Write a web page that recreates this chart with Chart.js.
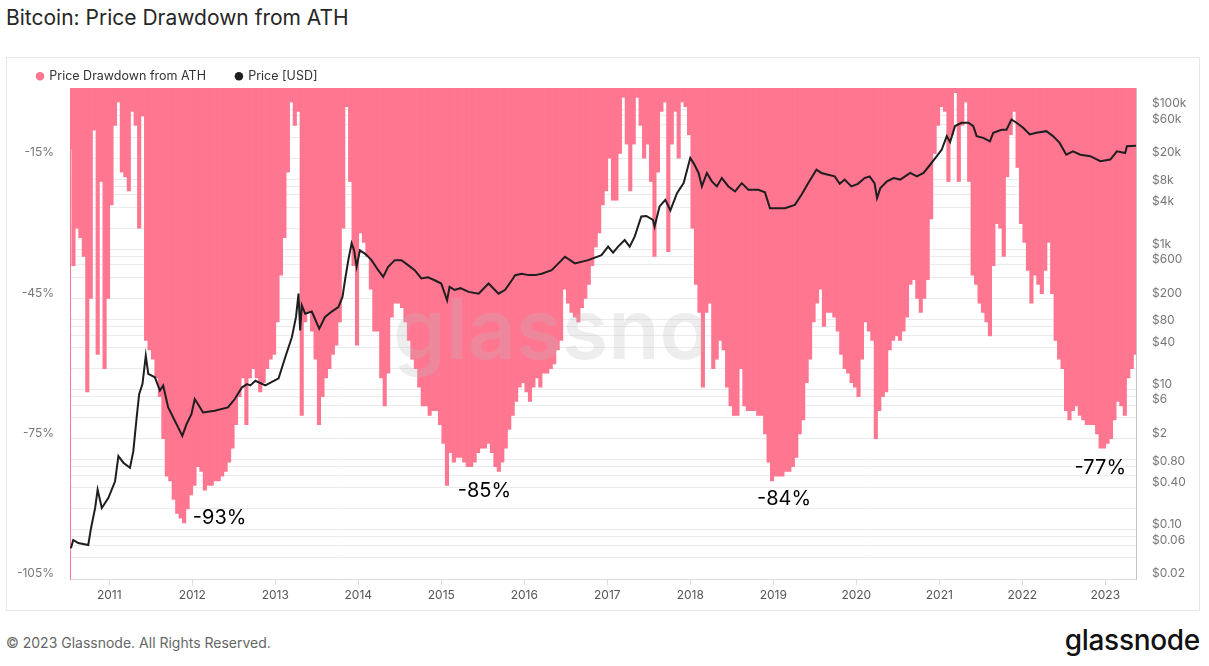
<!DOCTYPE html>
<html>
<head>
<meta charset="utf-8">
<script src="https://cdn.jsdelivr.net/npm/chart.js@4.4.0/dist/chart.umd.min.js"></script>
<style>
html,body{margin:0;padding:0;background:#fff;}
body{width:1209px;height:666px;position:relative;overflow:hidden;font-family:Inter,"Noto Sans",sans-serif;}
#title{position:absolute;left:6px;top:5px;font-size:21px;color:#262626;line-height:25px;white-space:nowrap;}
#box{position:absolute;left:6px;top:57px;width:1192px;height:552px;border:1px solid #e6e6e6;}
#wrap{position:absolute;left:7px;top:40px;width:1192px;height:570px;}
#footer{position:absolute;left:6px;top:634px;font-size:14px;color:#666;line-height:18px;white-space:nowrap;}
#logo{position:absolute;right:9px;top:623px;font-size:28px;color:#111;font-weight:500;line-height:34px;letter-spacing:-0.3px;}
</style>
</head>
<body>
<div id="title">Bitcoin: Price Drawdown from ATH</div>
<div id="box"></div>
<div id="wrap"><canvas id="c" width="1192" height="570"></canvas></div>
<div id="footer">© 2023 Glassnode. All Rights Reserved.</div>
<div id="logo">glassnode</div>
<script>
// ---- Data ----
// Drawdown from ATH (%), semi-monthly samples starting mid-July 2010
const drawdownStart = 2010.527;          // decimal year of first sample
const drawdownStepYears = 1 / 24;        // sampling interval (half month)
const drawdownPct = [
 -13,-38,-30,-32,-36,-65,-45,-9,-57,-20,-60,-45,
 -25,-8,-3,-18,-19,-22,-5,-8,-30,-6,-54,-56,-58,-62,-66,-75,-83,-84,-88,-91,-92,-93,-90,-87,
 -85,-81,-82,-86,-85,-85,-84,-84,-83,-82,-80,-77,-72,-66,-62,-72,-62,-60,-62,-65,-63,-60,-58,-57,
 -50,-40,-32,-18,-3,-8,-5,-70,-50,-48,-52,-58,-72,-66,-62,-60,-57,-55,-50,-30,-4,-20,-38,-55,
 -31,-33,-36,-43,-52,-52,-62,-68,-61,-49,-46,-46,-47,-50,-54,-58,-60,-64,-68,-68,-70,-69,-69,-72,
 -76,-85,-78,-80,-79,-79,-80,-81,-81,-80,-78,-77,-77,-76,-78,-81,-82,-80,-77,-73,-70,-67,-64,-63,
 -65,-67,-64,-62,-64,-61,-61,-60,-59,-56,-54,-43,-46,-48,-49,-50,-47,-45,-42,-38,-34,-31,-25,-22,
 -15,-24,-24,-14,-2,-12,-22,-12,-2,-8,-15,-12,-20,-36,-18,-5,-3,-35,-12,-5,-15,-3,-4,-10,
 -30,-42,-48,-64,-48,-46,-60,-58,-54,-56,-64,-68,-70,-70,-60,-68,-69,-69,-69,-70,-70,-74,-80,-84,
 -83,-83,-83,-82,-82,-81,-79,-74,-71,-63,-58,-50,-46,-43,-51,-48,-48,-49,-52,-57,-60,-61,-63,-64,
 -66,-58,-50,-52,-54,-75,-69,-66,-65,-56,-54,-53,-54,-52,-49,-42,-41,-45,-48,-45,-41,-28,-14,-8,
 -4,-5,-20,-10,-1,-20,-8,-3,-20,-40,-42,-46,-48,-50,-53,-38,-29,-30,-36,-19,-10,-5,-17,-29,
 -33,-39,-46,-40,-42,-44,-39,-33,-44,-54,-58,-60,-69,-71,-69,-68,-70,-71,-72,-72,-72,-74,-77,-77,
 -76,-75,-71,-67,-68,-70,-62,-60,-57
];

// Price [USD] (decimal year, price)
const priceDates = [
 2010.538,2010.566,2010.627,2010.747,2010.78,2010.83,2010.86,2010.91,2010.99,
 2011.07,2011.11,2011.17,2011.25,2011.29,2011.33,2011.36,2011.40,2011.44,2011.47,2011.55,2011.61,2011.65,2011.71,2011.79,2011.83,2011.88,2011.93,2011.99,
 2012.03,2012.07,2012.13,2012.27,2012.43,2012.51,2012.60,2012.66,2012.70,2012.76,2012.88,
 2013.00,2013.04,2013.12,2013.20,2013.25,2013.28,2013.30,2013.32,2013.36,2013.44,2013.53,2013.60,2013.68,2013.76,2013.81,2013.84,2013.88,2013.92,2013.95,2013.98,
 2014.02,2014.08,2014.16,2014.24,2014.30,2014.36,2014.44,2014.52,2014.60,2014.68,2014.76,2014.84,2014.92,
 2015.00,2015.07,2015.10,2015.16,2015.23,2015.33,2015.45,2015.57,2015.69,2015.77,2015.85,2015.89,2015.97,
 2016.05,2016.13,2016.21,2016.33,2016.45,2016.49,2016.61,2016.77,2016.93,
 2017.01,2017.07,2017.13,2017.21,2017.27,2017.33,2017.41,2017.47,2017.55,2017.57,2017.63,2017.70,2017.76,2017.84,2017.92,
 2018.00,2018.04,2018.10,2018.14,2018.20,2018.26,2018.32,2018.38,2018.46,2018.54,2018.62,2018.70,2018.82,2018.90,2018.96,
 2019.06,2019.14,2019.26,2019.34,2019.42,2019.52,2019.58,2019.66,2019.74,2019.80,2019.86,2019.94,
 2020.02,2020.10,2020.16,2020.22,2020.25,2020.29,2020.37,2020.45,2020.53,2020.65,2020.73,2020.81,2020.89,2020.97,
 2021.03,2021.09,2021.13,2021.19,2021.27,2021.35,2021.41,2021.45,2021.53,2021.61,2021.65,2021.75,2021.81,2021.87,2021.93,
 2022.01,2022.09,2022.17,2022.29,2022.37,2022.45,2022.53,2022.61,2022.70,2022.82,2022.94,
 2023.06,2023.14,2023.24,2023.26,2023.37
];
const priceUSD = [
 0.055,0.072,0.065,0.061,0.106,0.206,0.377,0.206,0.287,
 0.495,1.13,0.91,0.77,1.33,4.0,8.65,12.0,30.6,16.8,15,9.7,11.5,5.6,3.6,2.9,2.19,3.2,4.48,
 7.33,6.2,4.73,5.0,5.6,7.3,10.8,12,11.5,13.4,11.5,
 13.7,14.5,29,56,109,234,70,159,121,130,74,109,130,150,210,363,703,1219,970,565,
 970,870,703,505,405,565,703,700,596,505,385,400,363,
 326,188,292,265,280,248,234,326,234,265,363,429,450,
 430,430,450,505,703,785,631,703,830,
 1094,900,1094,1360,1094,1520,2943,3000,2640,2115,4100,5100,3600,6340,8820,
 20100,17000,12300,7900,12300,9330,7900,10400,7900,6700,8800,7080,7080,6500,3870,
 3870,3870,4320,6000,8800,13700,12300,11600,11000,8600,9900,7900,
 8600,10400,11000,8800,5380,7480,9330,10400,9900,12300,11000,12300,16100,21300,
 26500,41200,34000,57300,63900,63900,57300,41200,38900,34700,45900,50700,50700,71300,63900,
 54200,43500,45900,48500,41200,33000,22400,25000,22400,21300,18100,
 19100,25000,23700,29600,30000
];

// Axis ticks and labels
const yearTicks = [2011,2012,2013,2014,2015,2016,2017,2018,2019,2020,2021,2022,2023];
const drawdownTicks = [-105,-75,-45,-15];
const priceTickValues = [0.02,0.06,0.1,0.4,0.8,2,6,10,40,80,200,600,1000,4000,8000,20000,60000,100000];
const priceTickLabels = ['$0.02','$0.06','$0.10','$0.40','$0.80','$2','$6','$10','$40','$80','$200','$600','$1k','$4k','$8k','$20k','$60k','$100k'];
const priceGridValues = [0.02,0.04,0.06,0.08,0.1,0.2,0.4,0.6,0.8,1,2,4,6,8,10,20,40,60,80,100,200,400,600,800,
 1000,2000,4000,6000,8000,10000,20000,40000,60000,80000,100000,200000];

// Cycle-bottom annotations (text with its data anchor)
const bottomLabels = ['-93%','-85%','-84%','-77%'];
const bottomLabelYears = [2012.33,2015.52,2019.13,2022.94];
const bottomLabelPct = [-91.9,-86.1,-87.9,-81.3];

// ---- Chart ----
const PINK = '#ff7691';
Chart.defaults.font.family = 'Inter, "Noto Sans", sans-serif';

const drawdownData = drawdownPct.map((v, i) => ({x: drawdownStart + i * drawdownStepYears, y: v}));
const priceData = priceUSD.map((v, i) => ({x: priceDates[i], y: v}));

const overlay = {
  id: 'overlay',
  afterDatasetsDraw(chart) {
    const {ctx, chartArea, scales} = chart;
    ctx.save();
    ctx.textAlign = 'center';
    ctx.textBaseline = 'middle';
    // faint watermark (only its left part shows in the reference)
    ctx.save();
    ctx.beginPath();
    ctx.rect(chartArea.left, chartArea.top, 696 - chartArea.left, chartArea.bottom - chartArea.top);
    ctx.clip();
    ctx.font = '600 84px Inter';
    ctx.fillStyle = 'rgba(185,185,185,0.26)';
    ctx.fillText('glassnode', (chartArea.left + chartArea.right) / 2, (chartArea.top + chartArea.bottom) / 2);
    ctx.restore();
    ctx.font = '20px Inter';
    ctx.fillStyle = '#000';
    bottomLabels.forEach((t, i) => {
      ctx.fillText(t, scales.x.getPixelForValue(bottomLabelYears[i]), scales.yDD.getPixelForValue(bottomLabelPct[i]));
    });
    ctx.restore();
  }
};

new Chart(document.getElementById('c'), {
  type: 'bar',
  data: {
    datasets: [
      {
        label: 'Price Drawdown from ATH',
        data: drawdownData,
        yAxisID: 'yDD',
        backgroundColor: PINK,
        borderWidth: 0,
        barPercentage: 1,
        categoryPercentage: 1,
        order: 1
      },
      {
        type: 'line',
        label: 'Price [USD]',
        data: priceData,
        yAxisID: 'yPrice',
        borderColor: '#1e1e1e',
        backgroundColor: '#1e1e1e',
        borderWidth: 2,
        pointRadius: 0,
        tension: 0,
        order: 0
      }
    ]
  },
  options: {
    responsive: false,
    animation: false,
    events: [],
    layout: {padding: 0},
    plugins: {
      tooltip: {enabled: false},
      legend: {
        display: true,
        position: 'top',
        align: 'start',
        maxHeight: 48,
        labels: {
          usePointStyle: true,
          pointStyle: 'circle',
          boxWidth: 6,
          boxHeight: 6,
          padding: 30,
          color: '#333',
          font: {size: 12.5},
          sort: (a, b) => a.datasetIndex - b.datasetIndex,
          generateLabels(chart) {
            const items = Chart.defaults.plugins.legend.labels.generateLabels(chart);
            items.forEach(it => { it.lineWidth = 0; it.strokeStyle = 'rgba(0,0,0,0)'; });
            return items;
          }
        }
      }
    },
    scales: {
      x: {
        type: 'linear',
        min: 2010.527,
        max: 2023.37,
        offset: false,
        afterBuildTicks: s => { s.ticks = yearTicks.map(v => ({value: v})); },
        afterFit: s => { s.height = 31; },
        ticks: {autoSkip: false, maxRotation: 0, padding: 3, color: '#555', font: {size: 12}, callback: v => String(v)},
        grid: {drawOnChartArea: false, drawTicks: true, tickLength: 6, color: '#dcdcdc', offset: false},
        border: {display: true, color: '#dcdcdc'}
      },
      yDD: {
        type: 'linear',
        position: 'left',
        min: -105,
        max: 0,
        afterBuildTicks: s => { s.ticks = drawdownTicks.map(v => ({value: v})); },
        afterFit: s => { s.width = 63; },
        ticks: {autoSkip: false, padding: 16, labelOffset: -5.5, color: '#777', font: {size: 12}, callback: v => v + '%'},
        grid: {display: false, drawTicks: false},
        border: {display: true, color: PINK, width: 1}
      },
      yPrice: {
        type: 'logarithmic',
        position: 'right',
        min: 0.02,
        max: 200000,
        afterBuildTicks: s => { s.ticks = priceGridValues.map(v => ({value: v})); },
        afterFit: s => { s.width = 63; },
        ticks: {
          autoSkip: false, padding: 16, labelOffset: -5.5, color: '#777', font: {size: 12},
          callback: v => {
            const k = priceTickValues.findIndex(t => Math.abs(t - v) / t < 1e-6);
            return k >= 0 ? priceTickLabels[k] : '';
          }
        },
        grid: {color: '#ebebeb', drawTicks: false},
        border: {display: true, color: '#c4c4c4'}
      }
    }
  },
  plugins: [overlay]
});
</script>
</body>
</html>
